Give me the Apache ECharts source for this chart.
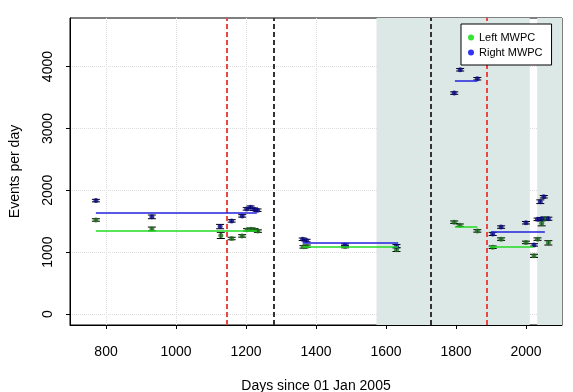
<!DOCTYPE html>
<html>
<head>
<meta charset="utf-8">
<script src="https://cdn.jsdelivr.net/npm/echarts@6/dist/echarts.min.js"></script>
<style>
    html, body { margin: 0; padding: 0; background: #fff; }
    #figure { width: 573px; height: 392px; }
</style>
</head>
<body>
<div id="figure"></div>
<script>
// Left MWPC measurements (day, events per day, error)
let left_days = [771, 931, 1128, 1159, 1189, 1203, 1214, 1224, 1234, 1364, 1374, 1483, 1630,
    1795, 1811, 1861, 1905, 1929, 2000, 2023, 2033, 2045, 2053, 2064];
let left_rate = [1520, 1375, 1270, 1220, 1262, 1360, 1370, 1360, 1340, 1085, 1095, 1090, 1040,
    1484, 1435, 1343, 1079, 1210, 1157, 940, 1210, 1465, 1545, 1150];
let left_err = [20, 30, 50, 20, 20, 20, 20, 20, 20, 20, 20, 20, 30,
    20, 20, 20, 20, 20, 20, 25, 20, 40, 20, 35];

// Right MWPC measurements
let right_days = [771, 931, 1126, 1159, 1189, 1202, 1213, 1223, 1233, 1362, 1373, 1483, 1630,
    1795, 1812, 1861, 1905, 1929, 2000, 2023, 2033, 2041, 2051, 2045, 2064];
let right_rate = [1833, 1570, 1413, 1505, 1586, 1699, 1727, 1694, 1678, 1208, 1187, 1115, 1097,
    3571, 3948, 3803, 1294, 1405, 1475, 1117, 1530, 1815, 1895, 1540, 1540];
let right_err = [20, 30, 35, 20, 20, 20, 20, 20, 20, 20, 20, 20, 25,
    20, 20, 20, 25, 20, 20, 20, 20, 30, 20, 20, 25];

// period averages: start day, end day, level
let left_fit_start = [771, 1362, 1797, 1897];
let left_fit_end = [1231, 1635, 1861, 2020];
let left_fit_level = [1338, 1092, 1413, 1092];
let right_fit_start = [771, 1362, 1797, 1900];
let right_fit_end = [1231, 1635, 1861, 2054];
let right_fit_level = [1629, 1147, 3770, 1322];

// shaded periods and marker days
let shade_start = [1573, 2032];
let shade_end = [2011, 2103];
let red_days = [1144, 1889];
let black_days = [1278, 1727, 1889];

let x_ticks = [800, 1000, 1200, 1400, 1600, 1800, 2000];
let y_ticks = [0, 1000, 2000, 3000, 4000];

let font = 'Liberation Sans, Arial, sans-serif';

function zip3(a, b, c) {
    let out = [];
    for (let i = 0; i < a.length; i++) {
        out.push([a[i], b[i], c[i]]);
    }
    return out;
}

function fit_lines(starts, ends, levels) {
    let out = [];
    for (let i = 0; i < starts.length; i++) {
        out.push([{coord: [starts[i], levels[i]]}, {coord: [ends[i], levels[i]]}]);
    }
    return out;
}

function render_err(params, api) {
    let x = api.value(0), y = api.value(1), e = api.value(2);
    let lo = api.coord([x, y - e]);
    let hi = api.coord([x, y + e]);
    let w = 4;
    let style = {stroke: '#000', lineWidth: 1};
    return {
        type: 'group',
        children: [
            {type: 'line', shape: {x1: lo[0], y1: lo[1], x2: hi[0], y2: hi[1]}, style: style},
            {type: 'line', shape: {x1: lo[0] - w, y1: lo[1], x2: lo[0] + w, y2: lo[1]}, style: style},
            {type: 'line', shape: {x1: hi[0] - w, y1: hi[1], x2: hi[0] + w, y2: hi[1]}, style: style}
        ]
    };
}

let areas = [];
for (let i = 0; i < shade_start.length; i++) {
    areas.push([{xAxis: shade_start[i]}, {xAxis: shade_end[i]}]);
}
let vlines = [];
for (let i = 0; i < black_days.length; i++) {
    vlines.push({xAxis: black_days[i], lineStyle: {color: '#333333'}});
}
for (let i = 0; i < red_days.length; i++) {
    vlines.push({xAxis: red_days[i], lineStyle: {color: '#ee4444'}});
}

let left_data = zip3(left_days, left_rate, left_err);
let right_data = zip3(right_days, right_rate, right_err);

let myChart = echarts.init(document.getElementById('figure'));
myChart.setOption({
    animation: false,
    backgroundColor: '#fff',
    grid: {
        left: 70, right: 11, top: 18, bottom: 67,
        containLabel: false, outerBoundsMode: 'none',
        show: true, borderColor: '#000', borderWidth: 1, backgroundColor: '#fff'
    },
    legend: {
        left: 461, top: 24, orient: 'vertical', z: 20,
        backgroundColor: '#fff', borderColor: '#000', borderWidth: 1,
        padding: [8, 9, 7, 7], itemGap: 4, itemWidth: 6, itemHeight: 6,
        icon: 'circle',
        textStyle: {fontFamily: font, fontSize: 11, color: '#000'},
        data: [
            {name: 'Left MWPC', itemStyle: {color: '#00dd00'}},
            {name: 'Right MWPC', itemStyle: {color: '#0000ee'}}
        ]
    },
    xAxis: {
        type: 'value', min: 697, max: 2103,
        name: 'Days since 01 Jan 2005', nameLocation: 'middle', nameGap: 54,
        nameTextStyle: {fontFamily: font, fontSize: 14, color: '#000'},
        axisLine: {onZero: false, lineStyle: {color: '#000'}},
        axisTick: {inside: false, length: 4, lineStyle: {color: '#000'}, customValues: x_ticks},
        axisLabel: {fontFamily: font, fontSize: 14, color: '#000', margin: 20, customValues: x_ticks,
            formatter: function (v) { return String(v); }},
        splitLine: {show: true, lineStyle: {color: '#dddddd', type: 'dotted'}}
    },
    yAxis: {
        type: 'value', min: -178, max: 4785,
        name: 'Events per day', nameLocation: 'middle', nameGap: 48,
        nameTextStyle: {fontFamily: font, fontSize: 14, color: '#000'},
        axisLine: {show: true, onZero: false, lineStyle: {color: '#000'}},
        axisTick: {show: true, inside: false, length: 4, lineStyle: {color: '#000'}, customValues: y_ticks},
        axisLabel: {fontFamily: font, fontSize: 14, color: '#000', margin: 22, rotate: 90,
            verticalAlign: 'middle', align: 'center', customValues: y_ticks,
            formatter: function (v) { return String(v); }},
        splitLine: {show: true, lineStyle: {color: '#dddddd', type: 'dotted'}}
    },
    series: [
        {
            type: 'scatter', name: 'shade', data: [], silent: true, z: 1,
            markArea: {silent: true, itemStyle: {color: '#dce8e6'}, data: areas},
            markLine: {
                silent: true, symbol: 'none', label: {show: false},
                lineStyle: {type: [5, 3], width: 2},
                data: vlines
            }
        },
        {
            type: 'custom', name: 'left_err', renderItem: render_err, data: left_data, z: 3,
            encode: {x: 0, y: 1}
        },
        {
            type: 'custom', name: 'right_err', renderItem: render_err, data: right_data, z: 3,
            encode: {x: 0, y: 1}
        },
        {
            type: 'scatter', name: 'Left MWPC', data: left_data, symbolSize: 5, z: 4,
            itemStyle: {color: '#1d6e1d'},
            markLine: {
                silent: true, symbol: 'none', label: {show: false},
                lineStyle: {color: '#22dd22', type: 'solid', width: 1.5},
                data: fit_lines(left_fit_start, left_fit_end, left_fit_level)
            }
        },
        {
            type: 'scatter', name: 'Right MWPC', data: right_data, symbolSize: 5, z: 4,
            itemStyle: {color: '#0a0a8c'},
            markLine: {
                silent: true, symbol: 'none', label: {show: false},
                lineStyle: {color: '#2222dd', type: 'solid', width: 1.5},
                data: fit_lines(right_fit_start, right_fit_end, right_fit_level)
            }
        }
    ]
});
</script>
</body>
</html>
